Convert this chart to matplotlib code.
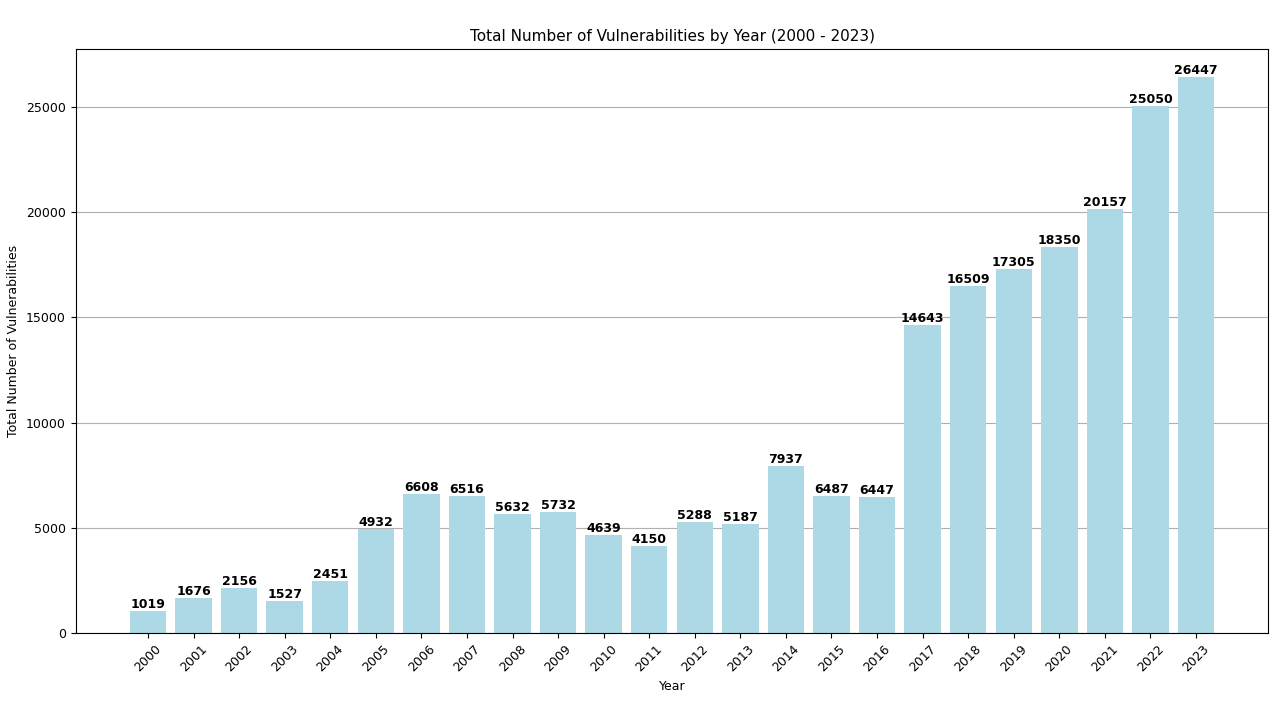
import matplotlib.pyplot as plt

years = list(range(2000, 2024))
counts = [1019, 1676, 2156, 1527, 2451, 4932, 6608, 6516, 5632, 5732, 4639, 4150,
          5288, 5187, 7937, 6487, 6447, 14643, 16509, 17305, 18350, 20157, 25050, 26447]

plt.rcParams['font.size'] = 9

fig = plt.figure(figsize=(12.8, 7.2), dpi=100)
ax = fig.add_axes([0.059, 0.121, 0.932, 0.811])
bars = ax.bar(years, counts, color='lightblue', zorder=2)
for b, c in zip(bars, counts):
    ax.text(b.get_x() + b.get_width() / 2, b.get_height(), str(c),
            ha='center', va='bottom', fontweight='bold', fontsize=9)

ax.set_title('Total Number of Vulnerabilities by Year (2000 - 2023)', fontsize=11)
ax.set_xlabel('Year')
ax.set_ylabel('Total Number of Vulnerabilities')
ax.set_xticks(years)
ax.set_xticklabels([str(y) for y in years], rotation=45)
ax.grid(axis='y', color='#b0b0b0', zorder=0)
ax.set_axisbelow(True)

fig.savefig('out.png', dpi=100)
